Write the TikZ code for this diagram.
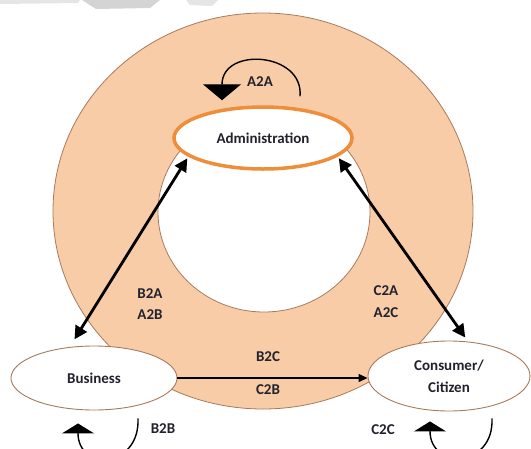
\documentclass[tikz,border=0pt]{standalone}
\usepackage{fontspec}
\setmainfont{Carlito}
\usetikzlibrary{arrows.meta,calc,shapes.geometric}
\definecolor{peach}{HTML}{F9CCA8}
\definecolor{rim}{HTML}{A87A5C}
\definecolor{orangerim}{HTML}{EE8E3A}
\definecolor{txt}{HTML}{22222E}
\definecolor{wm}{HTML}{D4D4D4}
\tikzset{
  lbl/.style={font=\bfseries\fontsize{15}{22}\selectfont, text=txt, inner sep=0pt},
  actor/.style={ellipse, draw=rim, line width=0.9pt, fill=white, font=\bfseries\fontsize{15}{22}\selectfont, text=txt, align=center, inner sep=1pt},
  dbl/.style={line width=2.8pt, {Triangle[length=13pt,width=13pt]}-{Triangle[length=13pt,width=13pt]}},
  flow/.style={line width=1.3pt, -{Triangle[length=9pt,width=8pt]}},
  loopA/.style={line width=1.4pt, -{Triangle[length=16pt,width=38pt]}},
  loopB/.style={line width=1.4pt, -{Triangle[length=10pt,width=32pt]}}
}
\begin{document}
\begin{tikzpicture}[x=1pt,y=-1pt]
\useasboundingbox (0,0) rectangle (531,448);
\clip (0,0) rectangle (531,448);
% watermark remnants
\fill[wm!60] (0,0) -- (80,0) -- (78,3) -- (0,4) -- cycle;
\fill[wm] (82,0) -- (160,0) -- (150,8) -- (96,9) -- cycle;
\fill[wm!60] (186,0) -- (218,0) -- (212,6) -- (190,5) -- cycle;
% rings
\filldraw[fill=peach, draw=rim, line width=0.8pt] (263,211) ellipse [x radius=210, y radius=198];
\filldraw[fill=white, draw=rim, line width=0.8pt] (264,212) ellipse [x radius=106, y radius=100];
% actors
\node[actor, draw=orangerim, line width=3.5pt, minimum width=178pt, minimum height=62pt] (admin) at (263,138) {Administration};
\node[actor, minimum width=166pt, minimum height=64pt] (business) at (94,378) {Business};
\node[actor, minimum width=162pt, minimum height=70pt] (consumer) at (449,376) {Consumer/\\Citizen};
% connectors
\draw[dbl, shorten <=2pt, shorten >=9pt] (admin.194) -- (business.128);
\draw[dbl, shorten <=2pt, shorten >=5pt] (admin.-14) -- (consumer.61);
\draw[flow] (business.east) -- (business.east -| consumer.west);
% self loops
\coordinate (aL1) at ($(admin.north)+(37,-9)$);
\coordinate (aL2) at ($(admin.north)+(-41,-5)$);
\draw[loopA] (aL1) .. controls ($(aL1)+(4,-44)$) and ($(aL2)+(0,-54)$) .. (aL2);
\coordinate (bL1) at ($(business.south)+(44,8)$);
\coordinate (bL2) at ($(business.south)+(-16,13)$);
\draw[loopB] (bL1) .. controls ($(bL1)+(2,50)$) and ($(bL2)+(0,48)$) .. (bL2);
\coordinate (cL1) at ($(consumer.south)+(43,7)$);
\coordinate (cL2) at ($(consumer.south)+(-19,10)$);
\draw[loopB] (cL1) .. controls ($(cL1)+(2,50)$) and ($(cL2)+(0,48)$) .. (cL2);
% labels
\node[lbl] (a2a) at (260,82) {A2A};
\node[lbl] (b2b) at (163,429) {B2B};
\node[lbl] (c2c) at (383,430) {C2C};
\node[lbl] (b2a) at (150,294) {B2A};
\node[lbl] (a2b) at (150,315) {A2B};
\node[lbl] (c2a) at (386,291) {C2A};
\node[lbl] (a2c) at (386,313) {A2C};
\node[lbl] (b2c) at (268,357) {B2C};
\node[lbl] (c2b) at (268,390) {C2B};
\end{tikzpicture}
\end{document}
